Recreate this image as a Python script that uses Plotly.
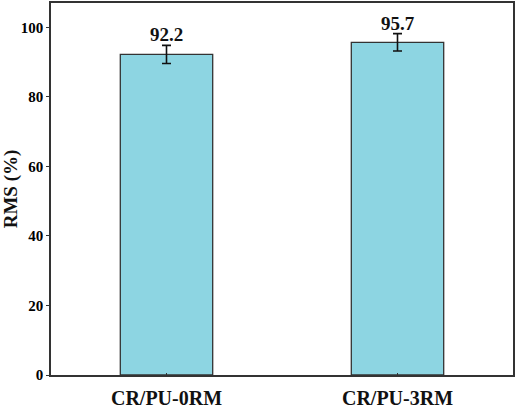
import plotly.graph_objects as go

categories = ["CR/PU-0RM", "CR/PU-3RM"]
values = [92.2, 95.7]
errors = [2.6, 2.5]
labels = ["92.2", "95.7"]
y_ticks = [0, 20, 40, 60, 80, 100]

FONT = "Liberation Serif, Times New Roman, serif"

fig = go.Figure()
fig.add_trace(go.Bar(
    x=categories, y=values, width=0.4,
    marker=dict(color="#8DD5E2", line=dict(color="#333333", width=1.3)),
    error_y=dict(type="data", array=errors, visible=True, color="#111111",
                 thickness=1.6, width=4.5),
    showlegend=False,
))
for c, v, e, t in zip(categories, values, errors, labels):
    fig.add_annotation(x=c, y=v + e, text=t, showarrow=False,
                       yanchor="bottom", yshift=-2,
                       font=dict(family=FONT, size=19, color="#111111", weight="bold"))

fig.update_layout(
    width=516, height=410,
    margin=dict(l=51, r=1, t=2, b=34),
    paper_bgcolor="white", plot_bgcolor="white",
    font=dict(family=FONT, color="#111111"),
)
fig.update_xaxes(
    range=[-0.5, 1.5], showline=True, mirror=True, linecolor="#333333", linewidth=1.5,
    ticks="inside", ticklen=2, tickcolor="#333333", ticklabelstandoff=4,
    tickfont=dict(family=FONT, size=20, color="#111111", weight="bold"),
    showgrid=False,
)
fig.update_yaxes(
    range=[0, 107], tickvals=y_ticks, showline=True, mirror=True,
    linecolor="#333333", linewidth=1.5, ticks="outside", ticklen=3,
    tickcolor="#333333", showgrid=False, zeroline=False,
    tickfont=dict(family=FONT, size=15, color="#000000", weight="bold"),
    title=dict(text="RMS (%)", font=dict(family=FONT, size=19, color="#111111", weight="bold"),
               standoff=5),
)
fig.write_html("out.html")
